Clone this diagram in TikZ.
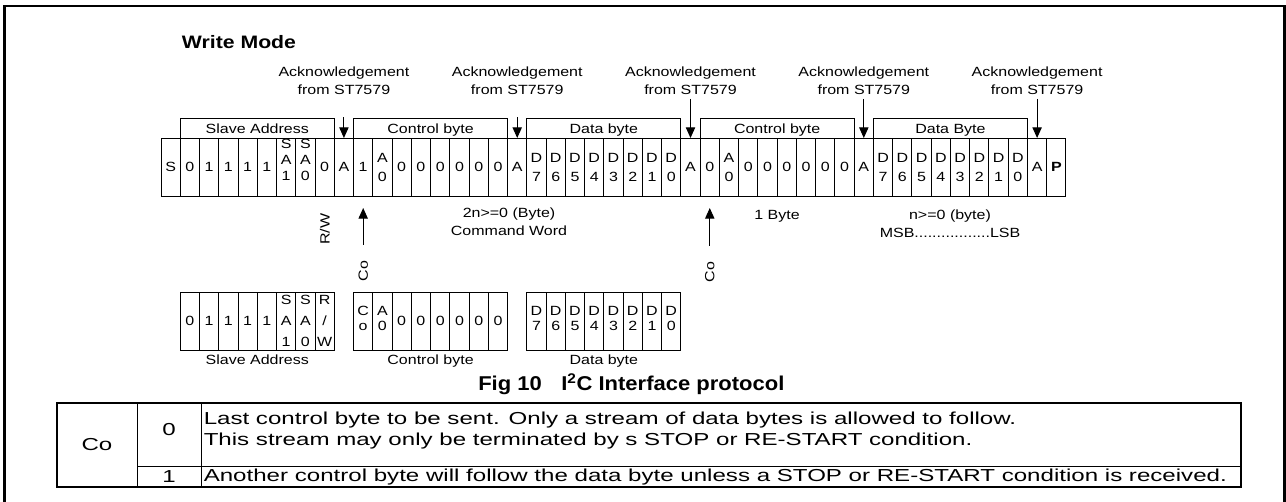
\documentclass[tikz,border=0pt]{standalone}
\usepackage{fontspec}
\setmainfont{Liberation Sans}
\newfontfamily\lblfont[FakeStretch=1.2]{Liberation Sans}
\newfontfamily\tblfont[FakeStretch=1.39]{Liberation Sans}
\newfontfamily\capfont[FakeStretch=1.1]{Liberation Sans}
\newfontfamily\ttlfont[FakeStretch=1.18]{Liberation Sans}
\usetikzlibrary{arrows.meta}

\begin{document}
\begin{tikzpicture}[x=0.75pt,y=-0.75pt,
 cellbox/.style={draw,line width=0.75pt,minimum width=14.44pt,minimum height=43.5pt,inner sep=0pt,outer sep=0pt},
 ctext/.style={inner sep=0pt,align=center},
 topS/.style={ctext,font=\lblfont\fontsize{10}{12}\selectfont},
 topD/.style={ctext,font=\lblfont\fontsize{10}{14.25}\selectfont},
 topT/.style={ctext,font=\lblfont\fontsize{10}{12}\selectfont,yshift=5.25pt},
 botS/.style={ctext,font=\lblfont\fontsize{10}{12}\selectfont},
 botD/.style={ctext,font=\lblfont\fontsize{10}{11.25}\selectfont,yshift=2.25pt},
 botT/.style={ctext,font=\lblfont\fontsize{10}{15.75}\selectfont},
 bracket/.style={draw,line width=0.75pt,minimum width=115.53pt,minimum height=14.5pt,inner sep=0pt,outer sep=0pt,font=\lblfont\fontsize{10}{12}\selectfont,text depth=0pt},
 lbl/.style={inner sep=0pt,font=\lblfont\fontsize{10}{13.5}\selectfont,align=center},
 lbl1/.style={inner sep=0pt,font=\lblfont\fontsize{10}{13.5}\selectfont,text depth=0pt},
 arr/.style={-{Triangle[length=8pt,width=7pt]},line width=0.75pt},
 tbl/.style={inner sep=0pt,font=\tblfont\fontsize{13}{15}\selectfont},
 capt/.style={anchor=base west,inner sep=0pt,font=\capfont\bfseries\fontsize{15}{18}\selectfont},
]
\useasboundingbox (0,0) rectangle (1286,501);
\draw[line width=1.6pt] (4.5,520) -- (4.5,5.8) -- (1284.5,5.8) -- (1284.5,520);

\node[anchor=base west,inner sep=0pt,font=\ttlfont\bfseries\fontsize{13.5}{16}\selectfont] (title) at (181.7,48) {Write Mode};

\def\w{19.255}
% top row
\foreach \c/\k [count=\i from 0] in {S/S,0/S,1/S,1/S,1/S,1/S,{S\\A\\1}/T,{S\\A\\0}/T,0/S,A/S,
  1/S,{A\\0}/D,0/S,0/S,0/S,0/S,0/S,0/S,A/S,
  {D\\7}/D,{D\\6}/D,{D\\5}/D,{D\\4}/D,{D\\3}/D,{D\\2}/D,{D\\1}/D,{D\\0}/D,A/S,
  0/S,{A\\0}/D,0/S,0/S,0/S,0/S,0/S,0/S,A/S,
  {D\\7}/D,{D\\6}/D,{D\\5}/D,{D\\4}/D,{D\\3}/D,{D\\2}/D,{D\\1}/D,{D\\0}/D,A/S,{\bfseries P}/S} {
  \node[cellbox] (t\i) at ({161+(\i+0.5)*\w},167) {};
  \node[top\k] (tx\i) at (t\i) {\c};
}

% brackets
\node[bracket] (g1) at ({161+5*\w},128.65) {Slave Address};
\node[bracket] (g2) at ({161+14*\w},128.65) {Control byte};
\node[bracket] (g3) at ({161+23*\w},128.65) {Data byte};
\node[bracket] (g4) at ({161+32*\w},128.65) {Control byte};
\node[bracket] (g5) at ({161+41*\w},128.65) {Data Byte};

% acknowledgements
\node[lbl] (ack1) at (t9 |- 0,81) {Acknowledgement\\from ST7579};
\node[lbl] (ack2) at (t18 |- 0,81) {Acknowledgement\\from ST7579};
\node[lbl] (ack3) at (t27 |- 0,81) {Acknowledgement\\from ST7579};
\node[lbl] (ack4) at (t36 |- 0,81) {Acknowledgement\\from ST7579};
\node[lbl] (ack5) at (t45 |- 0,81) {Acknowledgement\\from ST7579};
\draw[arr,shorten <=16.7pt] (ack1) -- (t9);
\draw[arr,shorten <=16.7pt] (ack2) -- (t18);
\draw[arr,shorten <=2.8pt] (ack3) -- (t27);
\draw[arr,shorten <=2.8pt] (ack4) -- (t36);
\draw[arr,shorten <=2.8pt] (ack5) -- (t45);

% annotations below the top row
\node[lbl1,rotate=90] (rw) at (t8 |- 0,229) {R/W};
\node[lbl1,rotate=90] (co1) at (t10 |- 0,271) {Co};
\node[lbl1,rotate=90] (co2) at (t28 |- 0,272) {Co};
\draw[arr,shorten <=11.9pt,shorten >=9pt] (co1) -- (t10);
\draw[arr,shorten <=11.9pt,shorten >=9pt] (co2) -- (t28);
\node[lbl] (cw) at (509,222) {2n>=0 (Byte)\\Command Word};
\node[lbl1] (ob) at (777,215) {1 Byte};
\node[lbl] (nb) at (950,224) {n>=0 (byte)\\MSB.................LSB};

% bottom row
\foreach \c/\k [count=\j from 1] in {0/S,1/S,1/S,1/S,1/S,{S\\A\\1}/T,{S\\A\\0}/T,{R\\/\\W}/T} {
  \node[cellbox] (b\j) at ({161+(\j+0.5)*\w},321) {};
  \node[bot\k] (bx\j) at (b\j) {\c};
}
\foreach \c/\k [count=\j from 10] in {{C\\o}/D,{A\\0}/D,0/S,0/S,0/S,0/S,0/S,0/S} {
  \node[cellbox] (b\j) at ({161+(\j+0.5)*\w},321) {};
  \node[bot\k] (bx\j) at (b\j) {\c};
}
\foreach \c/\k [count=\j from 19] in {{D\\7}/D,{D\\6}/D,{D\\5}/D,{D\\4}/D,{D\\3}/D,{D\\2}/D,{D\\1}/D,{D\\0}/D} {
  \node[cellbox] (b\j) at ({161+(\j+0.5)*\w},321) {};
  \node[bot\k] (bx\j) at (b\j) {\c};
}
\node[lbl1] (bl1) at ({161+5*\w},360) {Slave Address};
\node[lbl1] (bl2) at ({161+14*\w},360) {Control byte};
\node[lbl1] (bl3) at ({161+23*\w},360) {Data byte};

% caption
\node[capt] (fig) at (478,390) {Fig 10};
\node[capt] (cap) at (561,390) {I\textsuperscript{2}C Interface protocol};

% table
\draw[line width=1.5pt] (57,403) rectangle (1241,487);
\draw[line width=0.75pt] (137,403) -- (137,487) (201,403) -- (201,487) (137,466) -- (1241,466);
\node[tbl] (tco) at (97,445) {Co};
\node[tbl] (tb0) at (169,430) {0};
\node[tbl] (tb1) at (169,476.5) {1};
\node[tbl,anchor=base west] (r1) at (203.5,424.5) {Last control byte to be sent. Only a stream of data bytes is allowed to follow.};
\node[tbl,anchor=base west] (r2) at (203.5,445.5) {This stream may only be terminated by s STOP or RE-START condition.};
\node[tbl,anchor=base west] (r3) at (203.5,481.5) {Another control byte will follow the data byte unless a STOP or RE-START condition is received.};
\end{tikzpicture}
\end{document}
